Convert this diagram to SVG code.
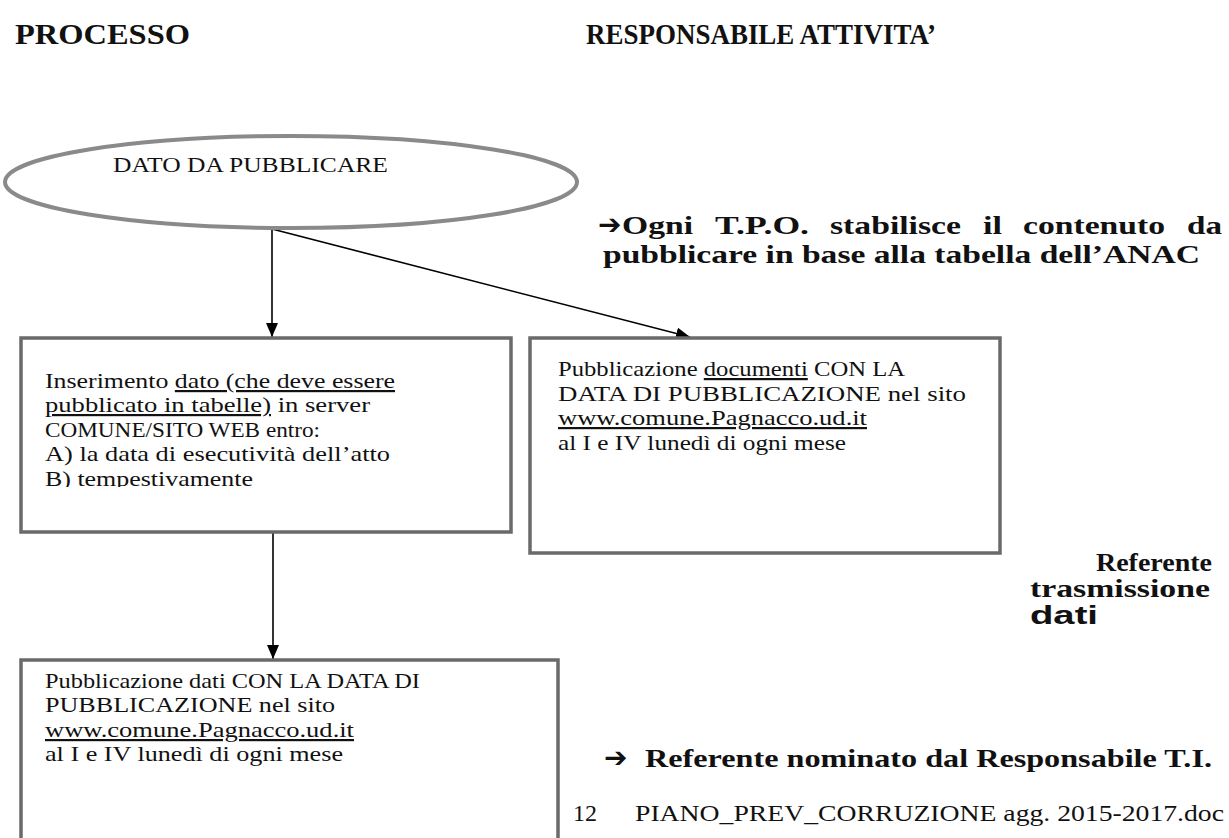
<svg xmlns="http://www.w3.org/2000/svg" width="1229" height="838" viewBox="0 0 1229 838">
<style>
text{font-family:"Liberation Serif","Times New Roman",serif;fill:#111}
.h{font-size:30px;font-weight:bold}
.t{font-size:22px}
.b{font-size:26px;font-weight:bold}
.arw{font-family:"DejaVu Sans",sans-serif;font-size:28px;font-weight:bold}
.u{text-decoration:underline}
.box{fill:#fff;stroke:#6a6a6a;stroke-width:3.5}
.conn{stroke:#000;stroke-width:1.6;fill:none}
</style>
<defs>
<marker id="ah" viewBox="0 0 14 12" refX="14" refY="6" markerWidth="14" markerHeight="12" markerUnits="userSpaceOnUse" orient="auto">
<path d="M0,0 L14,6 L0,12 z" fill="#000"/>
</marker>
<clipPath id="clipB"><rect x="25" y="330" width="420" height="157"/></clipPath>
</defs>
<rect width="1229" height="838" fill="#fff"/>

<g id="headers">
<text class="h" x="15" y="44" textLength="175" lengthAdjust="spacingAndGlyphs">PROCESSO</text>
<text class="h" x="586" y="44" textLength="350" lengthAdjust="spacingAndGlyphs">RESPONSABILE ATTIVITA’</text>
</g>

<g id="connectors">
<line class="conn" x1="272" y1="229" x2="272" y2="337" marker-end="url(#ah)"/>
<line class="conn" x1="272" y1="229" x2="690" y2="337" marker-end="url(#ah)"/>
<line class="conn" x1="273" y1="533" x2="273" y2="659" marker-end="url(#ah)"/>
</g>

<g id="node-dato">
<ellipse cx="291" cy="182" rx="286" ry="46" fill="none" stroke="#8a8a8a" stroke-width="4"/>
<text class="t" x="113" y="172" textLength="275" lengthAdjust="spacingAndGlyphs">DATO DA PUBBLICARE</text>
</g>

<g id="node-inserimento">
<rect class="box" x="21" y="338" width="490" height="194"/>
<g clip-path="url(#clipB)">
<text class="t" x="45" y="388" textLength="350" lengthAdjust="spacingAndGlyphs">Inserimento <tspan class="u">dato (che deve essere</tspan></text>
<text class="t" x="45" y="412" textLength="325" lengthAdjust="spacingAndGlyphs"><tspan class="u">pubblicato in tabelle)</tspan> in server</text>
<text class="t" x="45" y="437" textLength="275" lengthAdjust="spacingAndGlyphs">COMUNE/SITO WEB entro:</text>
<text class="t" x="45" y="461" textLength="345" lengthAdjust="spacingAndGlyphs">A) la data di esecutività dell’atto</text>
<text class="t" x="45" y="486" textLength="208" lengthAdjust="spacingAndGlyphs">B) tempestivamente</text>
</g>
</g>

<g id="node-pubblicazione-documenti">
<rect class="box" x="530" y="338" width="470" height="215"/>
<text class="t" x="558" y="376" textLength="347" lengthAdjust="spacingAndGlyphs">Pubblicazione <tspan class="u">documenti</tspan>  CON LA</text>
<text class="t" x="558" y="401" textLength="408" lengthAdjust="spacingAndGlyphs">DATA DI PUBBLICAZIONE nel sito</text>
<text class="t" x="558" y="425" textLength="309" lengthAdjust="spacingAndGlyphs"><tspan class="u">www.comune.Pagnacco.ud.it</tspan></text>
<text class="t" x="558" y="450" textLength="288" lengthAdjust="spacingAndGlyphs">al I e IV lunedì di ogni mese</text>
</g>

<g id="node-pubblicazione-dati">
<rect class="box" x="21" y="660" width="537" height="200"/>
<text class="t" x="45" y="688" textLength="375" lengthAdjust="spacingAndGlyphs">Pubblicazione dati CON LA DATA DI</text>
<text class="t" x="45" y="712" textLength="290" lengthAdjust="spacingAndGlyphs">PUBBLICAZIONE  nel sito</text>
<text class="t" x="45" y="737" textLength="309" lengthAdjust="spacingAndGlyphs"><tspan class="u">www.comune.Pagnacco.ud.it</tspan></text>
<text class="t" x="45" y="761" textLength="298" lengthAdjust="spacingAndGlyphs">al I e IV lunedì di ogni mese</text>
</g>

<g id="responsabili">
<text class="arw" x="598" y="234">➔</text>
<text class="b" x="622" y="234" textLength="71" lengthAdjust="spacingAndGlyphs">Ogni</text>
<text class="b" x="715" y="234" textLength="94" lengthAdjust="spacingAndGlyphs">T.P.O.</text>
<text class="b" x="830" y="234" textLength="131" lengthAdjust="spacingAndGlyphs">stabilisce</text>
<text class="b" x="983" y="234" textLength="19" lengthAdjust="spacingAndGlyphs">il</text>
<text class="b" x="1023" y="234" textLength="142" lengthAdjust="spacingAndGlyphs">contenuto</text>
<text class="b" x="1187" y="234" textLength="35" lengthAdjust="spacingAndGlyphs">da</text>
<text class="b" x="603" y="263" textLength="597" lengthAdjust="spacingAndGlyphs">pubblicare in base alla tabella dell’ANAC</text>
<text class="b" x="1212" y="571" text-anchor="end" textLength="116" lengthAdjust="spacingAndGlyphs">Referente</text>
<text class="b" x="1030" y="597" textLength="180" lengthAdjust="spacingAndGlyphs">trasmissione</text>
<text x="1030" y="624" style="font-family:'Liberation Sans',Arial,sans-serif;font-size:25px;font-weight:bold" textLength="68" lengthAdjust="spacingAndGlyphs">dati</text>
<text class="arw" x="604" y="767">➔</text>
<text class="b" x="645" y="767" textLength="567" lengthAdjust="spacingAndGlyphs">Referente nominato dal Responsabile T.I.</text>
</g>

<g id="footer">
<text class="t" x="573" y="821" style="font-size:24px">12</text>
<text class="t" x="635" y="821" style="font-size:24px" textLength="589" lengthAdjust="spacingAndGlyphs">PIANO_PREV_CORRUZIONE agg. 2015-2017.doc</text>
</g>
</svg>
